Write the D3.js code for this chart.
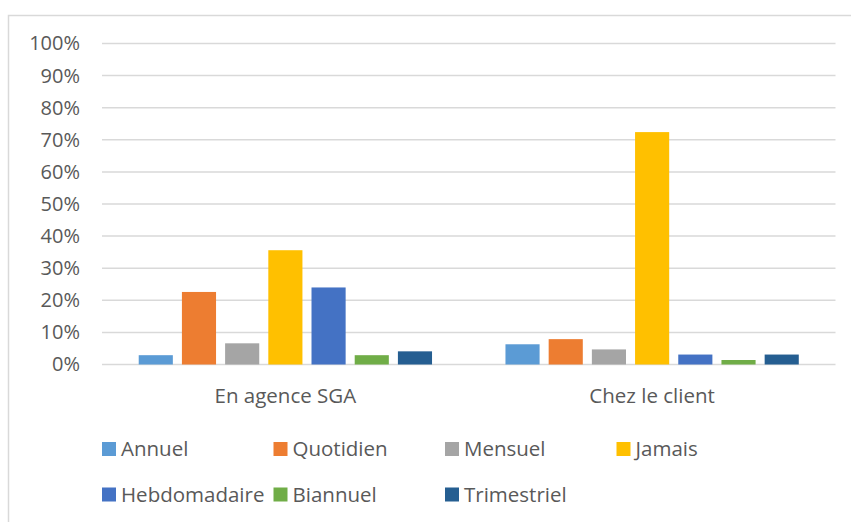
<!DOCTYPE html>
<html lang="fr">
<head>
<meta charset="utf-8">
<script src="https://cdnjs.cloudflare.com/ajax/libs/d3/7.8.5/d3.min.js"></script>
<style>
    body { margin: 0; background: #fff; }
    text { font-family: "Open Sans", sans-serif; fill: #595959; }
</style>
</head>
<body>
<svg width="851" height="522"></svg>
<script>
    // data
    var categories = ["En agence SGA", "Chez le client"];
    var series = ["Annuel", "Quotidien", "Mensuel", "Jamais", "Hebdomadaire", "Biannuel", "Trimestriel"];
    var colors = ["#5B9BD5", "#ED7D31", "#A5A5A5", "#FFC000", "#4472C4", "#70AD47", "#255E91"];
    var agenceValues = [0.029, 0.226, 0.066, 0.356, 0.240, 0.029, 0.041];
    var clientValues = [0.063, 0.079, 0.047, 0.724, 0.031, 0.014, 0.031];
    var yTicks = [0, 0.1, 0.2, 0.3, 0.4, 0.5, 0.6, 0.7, 0.8, 0.9, 1];

    var rows = [agenceValues, clientValues];

    var svg = d3.select("svg");

    // chart frame
    svg.append("rect")
        .attr("x", 8.5).attr("y", 15.5)
        .attr("width", 860).attr("height", 520)
        .attr("fill", "none")
        .attr("stroke", "#d9d9d9")
        .attr("stroke-width", 1.5);

    var plotLeft = 102, plotRight = 835.5, plotTop = 43.5, plotBottom = 364.5;

    var x0 = d3.scaleBand().domain(categories).range([plotLeft, plotRight]);
    var x1 = d3.scaleBand().domain(series).range([0, x0.bandwidth()])
        .paddingInner(0.21).paddingOuter(0.85);
    var y = d3.scaleLinear().domain([0, 1]).range([plotBottom, plotTop]);

    // gridlines
    svg.append("g")
        .selectAll("line")
        .data(yTicks)
        .enter().append("line")
        .attr("x1", plotLeft).attr("x2", plotRight)
        .attr("y1", function(d) { return y(d); })
        .attr("y2", function(d) { return y(d); })
        .attr("stroke", "#d9d9d9")
        .attr("stroke-width", 1.5);

    // y axis labels
    var yAxis = svg.append("g")
        .attr("transform", "translate(" + (plotLeft - 22) + ",0)")
        .call(d3.axisLeft(y).tickValues(yTicks).tickFormat(d3.format(".0%")).tickSize(0).tickPadding(0));
    yAxis.select(".domain").remove();
    yAxis.selectAll("text")
        .attr("font-family", "Open Sans")
        .style("font-size", "20px")
        .attr("fill", "#595959");

    // bars
    var groups = svg.append("g")
        .selectAll("g")
        .data(rows)
        .enter().append("g")
        .attr("transform", function(d, i) { return "translate(" + x0(categories[i]) + ",0)"; });

    groups.selectAll("rect")
        .data(function(d) { return d; })
        .enter().append("rect")
        .attr("x", function(d, i) { return x1(series[i]); })
        .attr("y", function(d) { return y(d); })
        .attr("width", x1.bandwidth())
        .attr("height", function(d) { return plotBottom - y(d); })
        .attr("fill", function(d, i) { return colors[i]; });

    // category labels
    svg.append("g")
        .selectAll("text")
        .data(categories)
        .enter().append("text")
        .attr("x", function(d) { return x0(d) + x0.bandwidth() / 2; })
        .attr("y", 403)
        .attr("text-anchor", "middle")
        .style("font-size", "20.5px")
        .text(function(d) { return d; });

    // legend
    var legend = svg.append("g")
        .selectAll("g")
        .data(series)
        .enter().append("g")
        .attr("transform", function(d, i) {
            return "translate(" + (102 + (i % 4) * 171.5) + "," + (442 + Math.floor(i / 4) * 45.5) + ")";
        });
    legend.append("rect")
        .attr("width", 14).attr("height", 14)
        .attr("fill", function(d, i) { return colors[i]; });
    legend.append("text")
        .attr("x", 19).attr("y", 14)
        .style("font-size", "20.5px")
        .text(function(d) { return d; });
</script>
</body>
</html>
